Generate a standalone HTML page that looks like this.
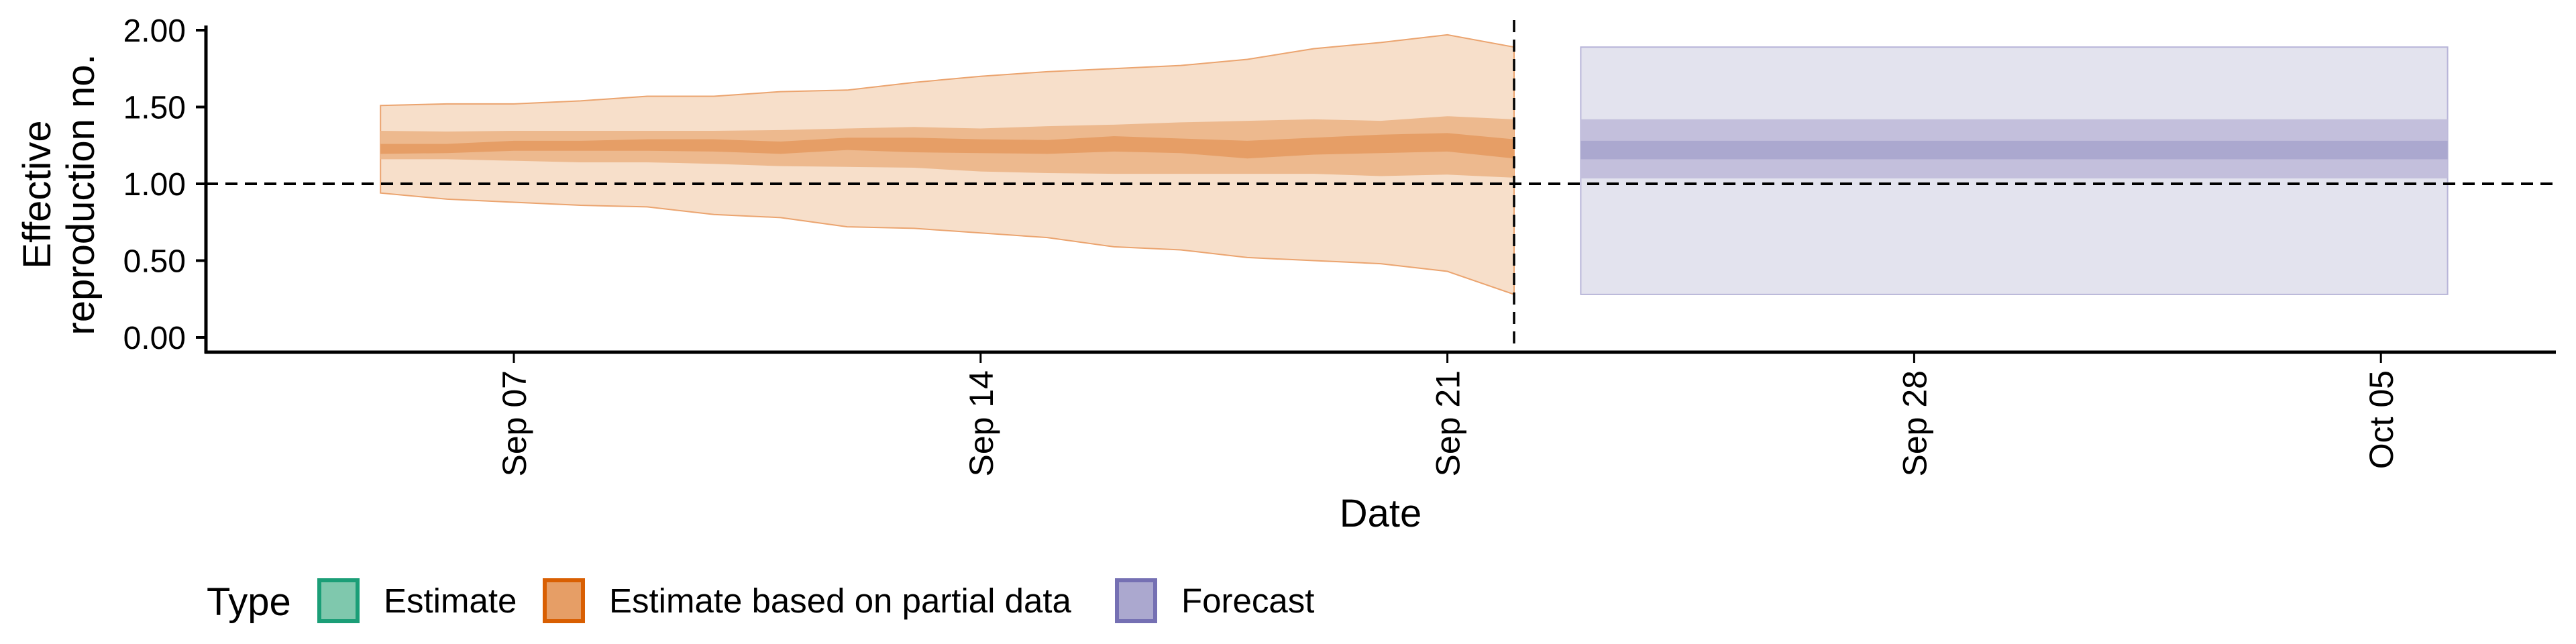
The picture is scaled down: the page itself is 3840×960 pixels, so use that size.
<!DOCTYPE html>
<html><head><meta charset="utf-8"><style>
html,body{margin:0;padding:0;background:#fff;}
svg{display:block;font-family:"Liberation Sans",sans-serif;}
</style></head><body>
<svg id="chart" width="3840" height="960" viewBox="0 0 3840 960">
<g id="bands"></g>
<g id="axes"></g>
<g id="legend"></g>
</svg>
<script>
// data: partial-data estimate, daily Sep 05 .. Sep 22 (day offsets from Sep 01)
const estDays = [4,5,6,7,8,9,10,11,12,13,14,15,16,17,18,19,20,21];
const estUpper90 = [1.51,1.52,1.52,1.54,1.57,1.57,1.60,1.61,1.66,1.70,1.73,1.75,1.77,1.81,1.88,1.92,1.97,1.89];
const estLower90 = [0.94,0.90,0.88,0.86,0.85,0.80,0.78,0.72,0.71,0.68,0.65,0.59,0.57,0.52,0.50,0.48,0.43,0.28];
const estUpper50 = [1.345,1.34,1.345,1.345,1.345,1.345,1.35,1.36,1.37,1.36,1.375,1.385,1.40,1.41,1.42,1.41,1.44,1.42];
const estLower50 = [1.16,1.16,1.15,1.14,1.14,1.13,1.115,1.11,1.105,1.08,1.07,1.065,1.065,1.065,1.065,1.05,1.06,1.04];
const estUpper20 = [1.26,1.26,1.28,1.28,1.29,1.29,1.275,1.30,1.30,1.29,1.285,1.31,1.295,1.28,1.30,1.32,1.33,1.29];
const estLower20 = [1.195,1.20,1.215,1.215,1.215,1.21,1.195,1.22,1.205,1.20,1.195,1.21,1.20,1.165,1.19,1.20,1.21,1.165];
// forecast: Sep 23 .. Oct 06
const fcDays = [22,35];
const fcUpper90 = [1.89,1.89], fcLower90 = [0.28,0.28];
const fcUpper50 = [1.42,1.42], fcLower50 = [1.035,1.035];
const fcUpper20 = [1.28,1.28], fcLower20 = [1.16,1.16];
const yTicks = [0,0.5,1,1.5,2];
const yTickLabels = ["0.00","0.50","1.00","1.50","2.00"];
const xTicks = [6,13,20,27,34];
const xTickLabels = ["Sep 07","Sep 14","Sep 21","Sep 28","Oct 05"];
const refR = 1.0;
const dataCutDay = 21;

const NS="http://www.w3.org/2000/svg";
const X0=307, X1=3810, YB=525;
const x = d => 766 + (d-6)*99.4;
const y = v => 503 - v*229;
function mk(tag, attrs, parent){const e=document.createElementNS(NS,tag);for(const k in attrs)e.setAttribute(k,attrs[k]);parent.appendChild(e);return e;}
const bands=document.getElementById('bands'), axes=document.getElementById('axes'), legend=document.getElementById('legend');

function area(days, up, lo, fill, stroke, name){
  let d="M"+days.map((t,i)=>x(t)+","+y(up[i])).join("L");
  for(let i=days.length-1;i>=0;i--) d+="L"+x(days[i])+","+y(lo[i]);
  d+="Z";
  const p=mk('path',{d:d,fill:fill,stroke:stroke||'none','stroke-width':stroke?2:0},bands);
  
  
}
area(estDays, estUpper90, estLower90, '#f7dfca', '#eba46f', 'estimate-partial-90ci');
area(estDays, estUpper50, estLower50, '#edb98e', null, 'estimate-partial-50ci');
area(estDays, estUpper20, estLower20, '#e69e66', null, 'estimate-partial-20ci');
function fcRect(lo, hi, fill, stroke, name){
  const r=mk('rect',{x:x(fcDays[0]),y:y(hi[0]),width:x(fcDays[1])-x(fcDays[0]),height:y(lo[0])-y(hi[0]),fill:fill,stroke:stroke||'none','stroke-width':stroke?2:0},bands);
  
  
}
fcRect(fcLower90, fcUpper90, '#e3e3ee', '#b8b5d8', 'forecast-90ci');
fcRect(fcLower50, fcUpper50, '#c3bfdc', null, 'forecast-50ci');
fcRect(fcLower20, fcUpper20, '#aba8cf', null, 'forecast-20ci');

// reference lines
let l=mk('line',{x1:X0,x2:X1,y1:y(refR),y2:y(refR),stroke:'#000','stroke-width':4,'stroke-dasharray':'18,11'},axes);


l=mk('line',{x1:x(dataCutDay),x2:x(dataCutDay),y1:30,y2:YB,stroke:'#000','stroke-width':3.5,'stroke-dasharray':'18,11'},axes);



// axes
l=mk('line',{x1:X0,x2:X0,y1:38,y2:YB+2,stroke:'#000','stroke-width':5},axes);


l=mk('line',{x1:X0-2,x2:X1,y1:YB,y2:YB,stroke:'#000','stroke-width':5},axes);


yTicks.forEach((v,i)=>{
  const t=mk('line',{x1:X0-15,x2:X0,y1:y(v),y2:y(v),stroke:'#000','stroke-width':4},axes);
  
  
  const tx=mk('text',{x:X0-30,y:y(v)+17,'text-anchor':'end','font-size':48,fill:'#000'},axes);
  tx.textContent=yTickLabels[i];
  
  
});
xTicks.forEach((d,i)=>{
  const t=mk('line',{x1:x(d),x2:x(d),y1:YB,y2:YB+16,stroke:'#000','stroke-width':3},axes);
  
  
  const tx=mk('text',{x:0,y:0,'text-anchor':'end','font-size':50,fill:'#000',transform:`translate(${x(d)+18},552) rotate(-90)`},axes);
  tx.textContent=xTickLabels[i];
  
  
});
let tt=mk('text',{x:2058,y:785,'text-anchor':'middle','font-size':58,fill:'#000'},axes);
tt.textContent='Date';


tt=mk('text',{x:0,y:0,'text-anchor':'middle','font-size':58,fill:'#000',transform:'translate(75,290) rotate(-90)'},axes);
tt.textContent='Effective';


tt=mk('text',{x:0,y:0,'text-anchor':'middle','font-size':58,fill:'#000',transform:'translate(140,290) rotate(-90)'},axes);
tt.textContent='reproduction no.';



// legend
tt=mk('text',{x:308,y:917,'font-size':58,fill:'#000'},legend);
tt.textContent='Type';


const legItems=[["Estimate",473,'#7fc8ad','#1b9e77'],["Estimate based on partial data",809,'#e69e66','#d95f02'],["Forecast",1662,'#aba8cf','#7570b3']];
legItems.forEach(it=>{
  const r=mk('rect',{x:it[1]+3,y:865,width:57,height:61,fill:it[2],stroke:it[3],'stroke-width':6},legend);
  
  
  const t=mk('text',{x:it[1]+99,y:913,'font-size':51,fill:'#000'},legend);
  t.textContent=it[0];
  
  
});
</script>
</body></html>
